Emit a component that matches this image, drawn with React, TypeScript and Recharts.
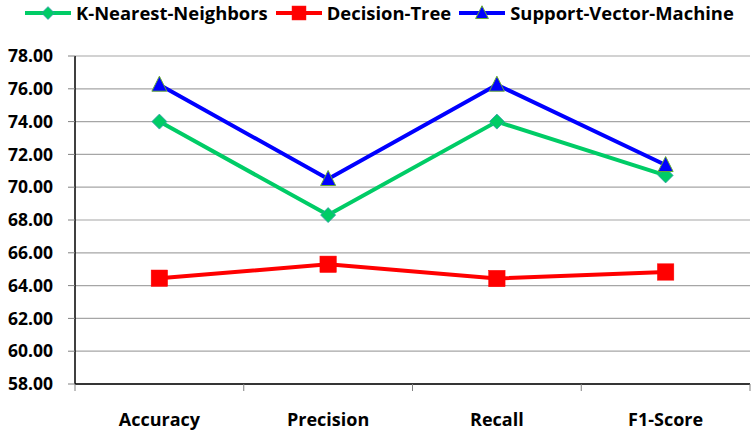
import React from 'react';
import { LineChart, Line, XAxis, YAxis, CartesianGrid, Legend } from 'recharts';

const categories = ['Accuracy', 'Precision', 'Recall', 'F1-Score'];
const knnValues = [74.0, 68.3, 74.0, 70.72];
const dtValues = [64.45, 65.3, 64.43, 64.83];
const svmValues = [76.25, 70.5, 76.25, 71.35];
const yTicks = [58, 60, 62, 64, 66, 68, 70, 72, 74, 76, 78];

const seriesNames = ['K-Nearest-Neighbors', 'Decision-Tree', 'Support-Vector-Machine'];
const seriesKeys = ['knn', 'dt', 'svm'];
const seriesColors = ['#00CC66', '#FF0000', '#0000FF'];

const data = categories.map((c, i) => ({
  name: c,
  knn: knnValues[i],
  dt: dtValues[i],
  svm: svmValues[i],
}));

const FONT = '"Open Sans", "DejaVu Sans", sans-serif';

const Marker = ({ kind, cx, cy, scale = 1 }: { kind: string; cx: number; cy: number; scale?: number }) => {
  if (kind === 'knn') {
    const h = 7.5 * scale;
    return (
      <polygon
        points={`${cx},${cy - h} ${cx + h},${cy} ${cx},${cy + h} ${cx - h},${cy}`}
        fill="#00CC66"
        stroke="#3399AA"
        strokeWidth={0.8}
      />
    );
  }
  if (kind === 'dt') {
    const h = 8.2 * scale;
    return <rect x={cx - h} y={cy - h} width={2 * h} height={2 * h} fill="#FF0000" stroke="#FF0000" strokeWidth={0.5} />;
  }
  const w = 7.5 * scale;
  return (
    <polygon
      points={`${cx},${cy - 8.5 * scale} ${cx + w},${cy + 6.5 * scale} ${cx - w},${cy + 6.5 * scale}`}
      fill="#0000FF"
      stroke="#66AA33"
      strokeWidth={1}
    />
  );
};

const makeDot = (kind: string) => (props: any) => {
  const { cx, cy, index } = props;
  if (cx == null || cy == null) return <g key={`${kind}-${index}`} />;
  return (
    <g key={`${kind}-${index}`}>
      <Marker kind={kind} cx={cx} cy={cy} />
    </g>
  );
};

const XTick = (props: any) => {
  const { x, y, payload, index, visibleTicksCount } = props;
  const off = payload && payload.offset != null ? payload.offset : 0;
  return (
    <g>
      <line x1={x - off} x2={x - off} y1={y} y2={y + 7} stroke="#808080" strokeWidth={1} />
      {index === visibleTicksCount - 1 && (
        <line x1={x + off} x2={x + off} y1={y} y2={y + 7} stroke="#808080" strokeWidth={1} />
      )}
      <text x={x} y={y + 42} textAnchor="middle" fontFamily={FONT} fontWeight={700} fontSize={18} fill="#000">
        {payload.value}
      </text>
    </g>
  );
};

const LegendContent = () => (
  <div
    style={{
      display: 'flex',
      alignItems: 'center',
      height: 26,
      lineHeight: '26px',
      paddingLeft: 25,
      fontFamily: FONT,
      fontWeight: 700,
      fontSize: 18.4,
      color: '#000',
      whiteSpace: 'nowrap',
    }}
  >
    {seriesKeys.map((k, i) => (
      <div key={k} style={{ display: 'flex', alignItems: 'center', marginRight: 8 }}>
        <svg width={46} height={20} style={{ display: 'block' }}>
          <line x1={0} x2={46} y1={10} y2={10} stroke={seriesColors[i]} strokeWidth={4} />
          <Marker kind={k} cx={23} cy={10} scale={0.85} />
        </svg>
        <span style={{ marginLeft: 5 }}>{seriesNames[i]}</span>
      </div>
    ))}
  </div>
);

export default function App() {
  return (
    <div style={{ position: 'absolute', left: 0, top: 0, width: 754, height: 432, background: '#fff' }}>
      <LineChart width={754} height={432} data={data} margin={{ top: 30, right: 4, bottom: 0, left: 0 }}>
        <CartesianGrid vertical={false} stroke="#A6A6A6" strokeWidth={1.2} />
        <XAxis
          dataKey="name"
          scale="band"
          axisLine={{ stroke: '#000', strokeWidth: 1.5 }}
          tickLine={false}
          tickSize={0}
          tickMargin={0}
          height={48}
          interval={0}
          tick={<XTick />}
        />
        <XAxis
          xAxisId="top"
          dataKey="name"
          scale="band"
          orientation="top"
          height={0}
          tick={false}
          tickLine={false}
          axisLine={{ stroke: '#000', strokeWidth: 1.5 }}
        />
        <YAxis
          domain={[58, 78]}
          ticks={yTicks}
          interval={0}
          width={75}
          tickSize={7}
          tickMargin={15}
          tickLine={{ stroke: '#808080' }}
          axisLine={{ stroke: '#000', strokeWidth: 1.5 }}
          tickFormatter={(v: number) => v.toFixed(2)}
          tick={{ fontFamily: FONT, fontWeight: 700, fontSize: 17.5, fill: '#000' }}
        />
        <YAxis
          yAxisId="right"
          orientation="right"
          width={0}
          domain={[58, 78]}
          tick={false}
          tickLine={false}
          axisLine={{ stroke: '#000', strokeWidth: 1.5 }}
        />
        <Legend verticalAlign="top" content={<LegendContent />} wrapperStyle={{ top: 0, left: 0, width: 754 }} />
        {seriesKeys.map((k, i) => (
          <Line
            key={k}
            dataKey={k}
            name={seriesNames[i]}
            stroke={seriesColors[i]}
            strokeWidth={4}
            dot={makeDot(k)}
            activeDot={false}
            isAnimationActive={false}
          />
        ))}
      </LineChart>
    </div>
  );
}
